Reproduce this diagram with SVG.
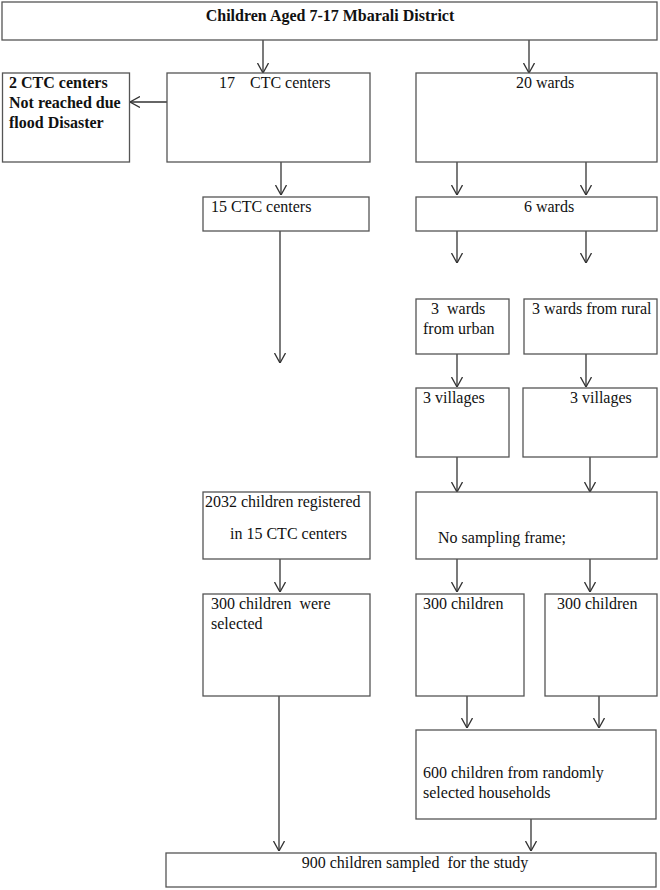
<svg xmlns="http://www.w3.org/2000/svg" width="660" height="890" viewBox="0 0 660 890">
<style>
.box{fill:#fff;stroke:#555;stroke-width:1.3}
.t{font-family:"Liberation Serif","Times New Roman",serif;font-size:16px;fill:#111;white-space:pre}
.b{font-weight:bold}
.c{text-anchor:middle}
.e{stroke:#333;stroke-width:1.3;fill:none}
</style>
<defs>
<marker id="ah" viewBox="0 0 10 12" refX="10" refY="6" markerWidth="10" markerHeight="12" markerUnits="userSpaceOnUse" orient="auto">
<path d="M0,0.5 L10,6 L0,11.5" fill="none" stroke="#333" stroke-width="1.3"/>
</marker>
</defs>
<rect width="660" height="890" fill="#fff"/>
<g id="connectors">
<line class="e" x1="263" y1="40" x2="263" y2="73" marker-end="url(#ah)"/>
<line class="e" x1="529" y1="40" x2="529" y2="73" marker-end="url(#ah)"/>
<line class="e" x1="167" y1="102" x2="130" y2="102" marker-end="url(#ah)"/>
<line class="e" x1="281" y1="162" x2="281" y2="195" marker-end="url(#ah)"/>
<line class="e" x1="457" y1="162" x2="457" y2="195" marker-end="url(#ah)"/>
<line class="e" x1="586" y1="162" x2="586" y2="195" marker-end="url(#ah)"/>
<line class="e" x1="280" y1="231" x2="280" y2="363" marker-end="url(#ah)"/>
<line class="e" x1="457" y1="231" x2="457" y2="263" marker-end="url(#ah)"/>
<line class="e" x1="586" y1="231" x2="586" y2="263" marker-end="url(#ah)"/>
<line class="e" x1="457" y1="354" x2="457" y2="387" marker-end="url(#ah)"/>
<line class="e" x1="586" y1="354" x2="586" y2="387" marker-end="url(#ah)"/>
<line class="e" x1="457" y1="457" x2="457" y2="492" marker-end="url(#ah)"/>
<line class="e" x1="590" y1="457" x2="590" y2="492" marker-end="url(#ah)"/>
<line class="e" x1="280" y1="559" x2="280" y2="592" marker-end="url(#ah)"/>
<line class="e" x1="457" y1="559" x2="457" y2="592" marker-end="url(#ah)"/>
<line class="e" x1="590" y1="559" x2="590" y2="592" marker-end="url(#ah)"/>
<line class="e" x1="467" y1="696" x2="467" y2="728" marker-end="url(#ah)"/>
<line class="e" x1="599" y1="696" x2="599" y2="728" marker-end="url(#ah)"/>
<line class="e" x1="279" y1="696" x2="279" y2="851" marker-end="url(#ah)"/>
<line class="e" x1="531" y1="819" x2="531" y2="851" marker-end="url(#ah)"/>
</g>
<g id="n-top"><rect class="box" x="2" y="2" width="655" height="38"/><text class="t b c" x="330" y="21">Children Aged 7-17 Mbarali District</text></g>
<g id="n-2ctc"><rect class="box" x="2.5" y="73" width="127" height="89"/>
<text class="t b" x="9" y="88">2 CTC centers</text><text class="t b" x="9" y="108">Not reached due</text><text class="t b" x="9" y="128">flood Disaster</text></g>
<g id="n-17ctc"><rect class="box" x="167" y="73" width="203" height="89"/><text class="t" x="219" y="88">17</text><text class="t" x="250" y="88">CTC centers</text></g>
<g id="n-20wards"><rect class="box" x="416" y="73" width="241" height="89"/><text class="t c" x="545" y="88">20 wards</text></g>
<g id="n-15ctc"><rect class="box" x="203" y="197" width="166" height="34"/><text class="t" x="211" y="212">15 CTC centers</text></g>
<g id="n-6wards"><rect class="box" x="416" y="197" width="241" height="34"/><text class="t c" x="549" y="212">6 wards</text></g>
<g id="n-urban"><rect class="box" x="416" y="299" width="93" height="55"/><text class="t" x="431" y="314">3  wards</text><text class="t" x="423" y="334">from urban</text></g>
<g id="n-rural"><rect class="box" x="524" y="299" width="133" height="55"/><text class="t" x="532" y="314">3 wards from rural</text></g>
<g id="n-vil1"><rect class="box" x="416" y="388" width="93" height="69"/><text class="t" x="423" y="403">3 villages</text></g>
<g id="n-vil2"><rect class="box" x="523" y="388" width="134" height="69"/><text class="t" x="570" y="403">3 villages</text></g>
<g id="n-2032"><rect class="box" x="203" y="492" width="167" height="67"/><text class="t" x="205" y="507">2032 children registered</text><text class="t" x="230" y="539">in 15 CTC centers</text></g>
<g id="n-nsf"><rect class="box" x="416" y="492" width="241" height="67"/><text class="t" x="438" y="543">No sampling frame;</text></g>
<g id="n-300sel"><rect class="box" x="203" y="594" width="167" height="102"/><text class="t" x="211" y="609">300 children  were</text><text class="t" x="211" y="629">selected</text></g>
<g id="n-300a"><rect class="box" x="416" y="594" width="108" height="102"/><text class="t" x="423" y="609">300 children</text></g>
<g id="n-300b"><rect class="box" x="545" y="594" width="112" height="102"/><text class="t" x="557" y="609">300 children</text></g>
<g id="n-600"><rect class="box" x="416" y="730" width="240" height="89"/><text class="t" x="423" y="778">600 children from randomly</text><text class="t" x="423" y="798">selected households</text></g>
<g id="n-900"><rect class="box" x="166" y="853" width="490" height="34"/><text class="t c" x="415" y="868">900 children sampled  for the study</text></g>
</svg>
